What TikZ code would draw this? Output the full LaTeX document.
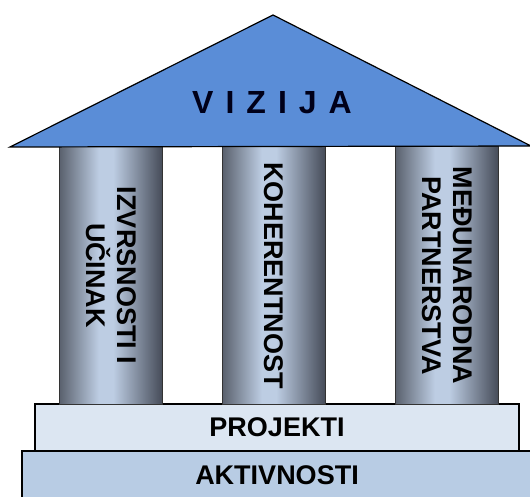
\documentclass[tikz,border=0pt]{standalone}
\usepackage{fontspec}
\setmainfont{Liberation Sans}
\definecolor{roofblue}{HTML}{5A8DD7}
\definecolor{pillardark}{HTML}{5A616E}
\definecolor{pillarlight}{HTML}{BDCDE3}
\definecolor{pillaredge}{HTML}{454B58}
\definecolor{projfill}{HTML}{DCE6F2}
\definecolor{actfill}{HTML}{B8CCE4}
\pgfdeclarehorizontalshading{pillarshade}{100bp}{color(0bp)=(pillardark); color(25bp)=(pillardark); color(44bp)=(pillarlight); color(51bp)=(pillarlight); color(75bp)=(pillaredge); color(100bp)=(pillaredge)}
\tikzset{
  pillar/.style={draw=black!80, line width=1pt, shading=pillarshade, minimum width=103pt, minimum height=257pt, inner sep=0pt},
  slab/.style={draw=black, line width=1.2pt, minimum height=47pt, inner sep=0pt, font=\fontsize{27}{31}\selectfont\bfseries},
  pillartext/.style={rotate=-90, align=center, font=\fontsize{27}{31}\selectfont\bfseries}
}
\begin{document}
\begin{tikzpicture}[x=1pt, y=-1pt]
    \useasboundingbox (0,0) rectangle (530,497);

    % Base slabs
    \node[slab, fill=actfill, minimum width=510pt, minimum height=48pt] (activities) at (277,475) {AKTIVNOSTI};
    \node[slab, fill=projfill, minimum width=484pt] (projects) at (277,427.5) {PROJEKTI};

    % Three pillars
    \node[pillar] (pillar1) at (111,275.5) {};
    \node[pillar] (pillar2) at (274,275.5) {};
    \node[pillar] (pillar3) at (447,275.5) {};

    % Pillar texts
    \node[pillartext] (text1) at (pillar1.center) {IZVRSNOSTI I\\UČINAK};
    \node[pillartext] (text2) at (pillar2.center) {KOHERENTNOST};
    \node[pillartext] (text3) at (pillar3.center) {MEĐUNARODNA\\PARTNERSTVA};

    % Roof
    \coordinate (roofleft) at (10,147);
    \coordinate (roofapex) at (273,15);
    \coordinate (roofright) at (531,146);
    \draw[fill=roofblue, line width=1.2pt, line join=miter] (roofleft) -- (roofapex) -- (roofright) -- cycle;
    \node[font=\fontsize{32}{36}\selectfont\bfseries, text=black!90!blue] (vision) at (272,103) {V\kern12pt I\kern12pt Z\kern12pt I\kern12pt J\kern12pt A};
\end{tikzpicture}
\end{document}
